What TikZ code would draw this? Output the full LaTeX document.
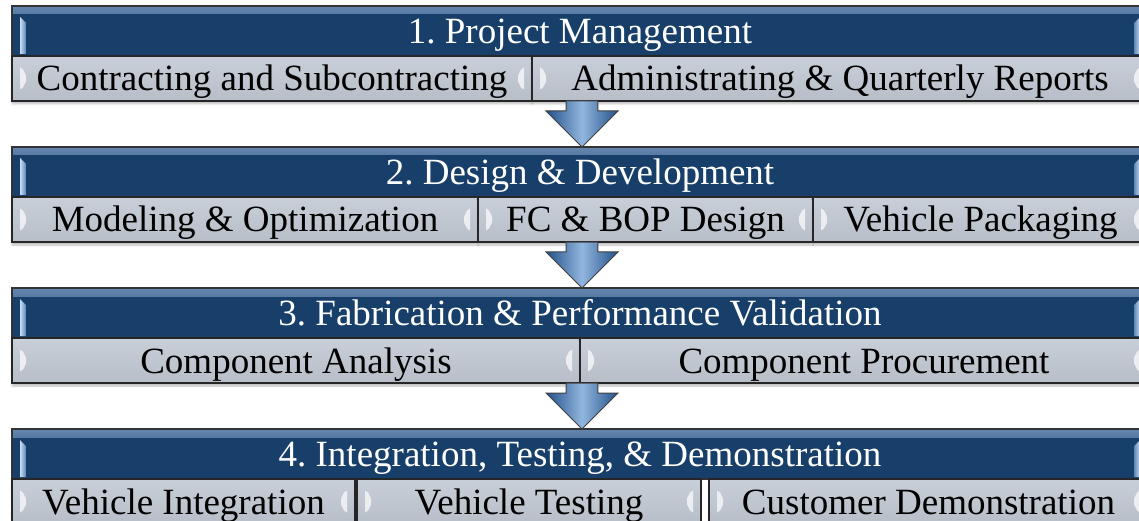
\documentclass[tikz,border=0pt]{standalone}
\usepackage{fontspec}
\setmainfont{Liberation Serif}
\usetikzlibrary{positioning,calc,shapes.arrows,shadows.blur}

\definecolor{phaseblue}{HTML}{173F6A}
\definecolor{phasehi}{HTML}{6486AE}
\definecolor{bevelhi}{HTML}{C9DCF2}
\definecolor{bevello}{HTML}{5B87B9}
\definecolor{taskhi}{HTML}{C9CFD8}
\definecolor{tasklo}{HTML}{B7BEC8}
\definecolor{flowdark}{HTML}{22518A}
\definecolor{flowlight}{HTML}{92B6DE}

\newcommand{\bandfont}{\fontsize{37}{40}\selectfont\frenchspacing}

\begin{document}
\begin{tikzpicture}[
  x=1pt, y=1pt,
  node distance=0pt,
  every node/.style={font=\bandfont, inner sep=0pt, outer sep=0pt, text height=25pt, text depth=0pt},
  phase/.style={rectangle, draw=black!80, line width=1.2pt, fill=phaseblue, text=white,
    minimum width=1136pt, minimum height=50pt,
    path picture={
      \shade[top color=phasehi, bottom color=phaseblue]
        (path picture bounding box.north west) rectangle ([yshift=-8pt]path picture bounding box.north east);
      \shade[left color=bevelhi, right color=bevello]
        ([shift={(8pt,-11pt)}]path picture bounding box.north west) -- ++(6pt,-6pt)
        -- ([shift={(14pt,2pt)}]path picture bounding box.south west) -- ++(-6pt,0) -- cycle;
      \shade[left color=bevello, right color=bevelhi]
        ([shift={(-8pt,-11pt)}]path picture bounding box.north east) -- ++(-6pt,-6pt)
        -- ([shift={(-14pt,2pt)}]path picture bounding box.south east) -- ++(6pt,0) -- cycle;
    }},
  task/.style={rectangle, draw=black!85, line width=1.2pt, top color=taskhi, bottom color=tasklo,
    text=black, minimum height=45pt,
    blur shadow={shadow xshift=0pt, shadow yshift=-3pt, shadow opacity=25, shadow blur steps=6},
    path picture={
      % light end caps on both sides of a task
      \fill[white, opacity=0.7] ([xshift=8pt]path picture bounding box.west) ++(0,-11pt)
        -- ++(0,22pt) -- ++(3pt,-2pt) -- ++(3pt,-6pt) -- ++(0,-6pt) -- ++(-3pt,-6pt) -- cycle;
      \fill[white, opacity=0.7] ([xshift=-8pt]path picture bounding box.east) ++(0,-11pt)
        -- ++(0,22pt) -- ++(-3pt,-2pt) -- ++(-3pt,-6pt) -- ++(0,-6pt) -- ++(3pt,-6pt) -- cycle;
    }},
  flow/.style={single arrow, rotate=-90, draw=black!75, line width=1pt,
    minimum height=46pt, minimum width=72pt, single arrow head extend=16.5pt,
    left color=flowdark, right color=flowdark, middle color=flowlight}
]
  \useasboundingbox (0,0) rectangle (1139,-521);
  \clip (0,0) rectangle (1139,-521);

  % phase 1
  \node[phase, anchor=north west] (p1) at (12,-6) {1. Project Management};
  \node[task, minimum width=520pt, below right=0pt and 0pt of p1.south west] (t11) {Contracting and Subcontracting};
  \node[task, minimum width=616pt, right=of t11] (t12) {Administrating \& Quarterly Reports};

  % phase 2
  \node[phase, below right=46pt and 0pt of t11.south west] (p2) {2. Design \& Development};
  \node[task, minimum width=466pt, below right=0pt and 0pt of p2.south west] (t21) {Modeling \& Optimization};
  \node[task, minimum width=335pt, right=of t21] (t22) {FC \& BOP Design};
  \node[task, minimum width=335pt, right=of t22] (t23) {Vehicle Packaging};

  % phase 3
  \node[phase, below right=46pt and 0pt of t21.south west] (p3) {3. Fabrication \& Performance Validation};
  \node[task, minimum width=568pt, below right=0pt and 0pt of p3.south west] (t31) {Component Analysis};
  \node[task, minimum width=568pt, right=of t31] (t32) {Component Procurement};

  % phase 4
  \node[phase, below right=46pt and 0pt of t31.south west] (p4) {4. Integration, Testing, \& Demonstration};
  \node[task, minimum width=343pt, below right=0pt and 0pt of p4.south west] (t41) {Vehicle Integration};
  \node[task, minimum width=344pt, right=2pt of t41] (t42) {Vehicle Testing};
  \node[task, minimum width=439pt, right=8pt of t42] (t43) {Customer Demonstration};

  % block arrows between phases
  \foreach \a/\b in {1/2,2/3,3/4}
    \node[flow, anchor=tip] (f\a) at ([xshift=2pt]p\b.north) {};
\end{tikzpicture}
\end{document}
